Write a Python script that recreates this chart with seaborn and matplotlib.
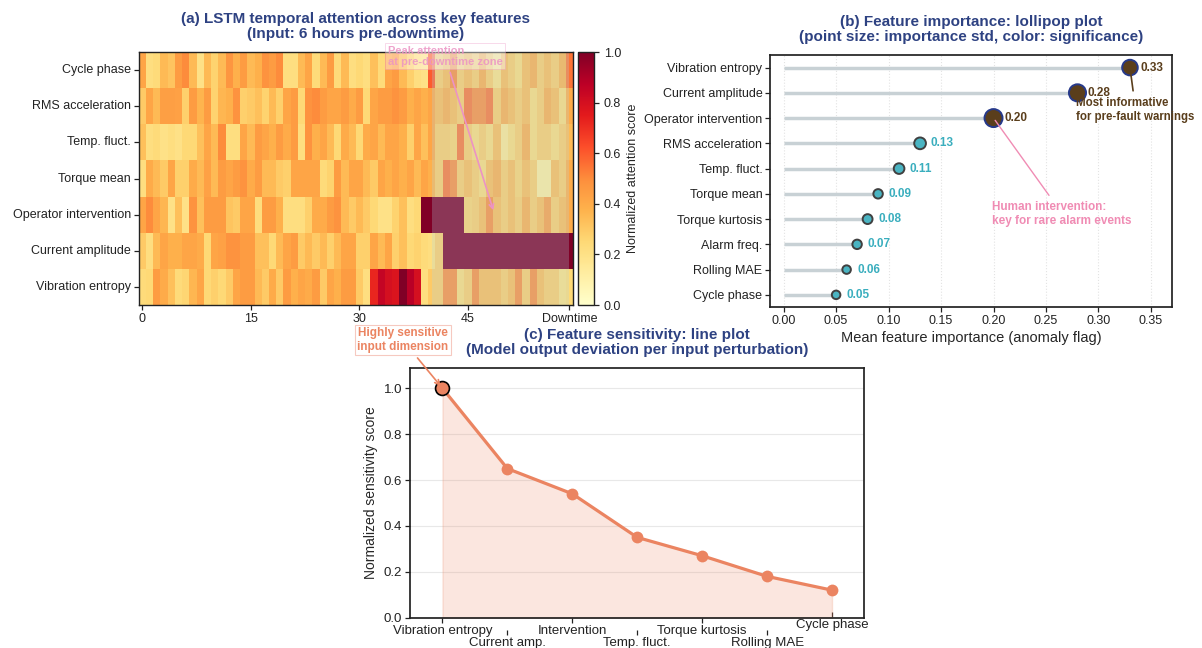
import numpy as np
import pandas as pd
import matplotlib
matplotlib.use("Agg")
import matplotlib.pyplot as plt
import seaborn as sns
from matplotlib.transforms import ScaledTranslation

# ---- (a) LSTM attention heatmap: 7 features x 60 time steps ----
heat_features = ["Cycle phase", "RMS acceleration", "Temp. fluct.", "Torque mean",
                 "Operator intervention", "Current amplitude", "Vibration entropy"]
att_cycle_phase = [0.42, 0.22, 0.24, 0.35, 0.32, 0.45, 0.50, 0.35, 0.20, 0.35, 0.27, 0.35, 0.47, 0.38, 0.45,
                   0.35, 0.38, 0.48, 0.45, 0.50, 0.22, 0.22, 0.35, 0.42, 0.24, 0.35, 0.45, 0.24, 0.35, 0.22,
                   0.25, 0.22, 0.33, 0.24, 0.42, 0.45, 0.35, 0.28, 0.22, 0.20, 0.60, 0.30, 0.35, 0.50, 0.30,
                   0.35, 0.30, 0.40, 0.30, 0.22, 0.35, 0.30, 0.25, 0.35, 0.40, 0.30, 0.35, 0.30, 0.38, 0.55]
att_rms_accel = [0.30, 0.42, 0.35, 0.44, 0.44, 0.43, 0.28, 0.45, 0.37, 0.45, 0.27, 0.36, 0.38, 0.48, 0.28,
                 0.30, 0.33, 0.27, 0.35, 0.28, 0.42, 0.45, 0.25, 0.48, 0.50, 0.45, 0.42, 0.42, 0.45, 0.40,
                 0.45, 0.25, 0.42, 0.45, 0.45, 0.48, 0.45, 0.38, 0.42, 0.38, 0.42, 0.35, 0.40, 0.35, 0.30,
                 0.55, 0.50, 0.50, 0.55, 0.30, 0.40, 0.35, 0.30, 0.35, 0.25, 0.30, 0.40, 0.35, 0.25, 0.40]
att_temp_fluct = [0.33, 0.22, 0.24, 0.20, 0.22, 0.20, 0.25, 0.25, 0.33, 0.42, 0.35, 0.50, 0.22, 0.22, 0.42,
                  0.35, 0.45, 0.42, 0.38, 0.45, 0.40, 0.45, 0.22, 0.48, 0.38, 0.42, 0.35, 0.25, 0.40, 0.35,
                  0.25, 0.40, 0.42, 0.35, 0.42, 0.42, 0.38, 0.28, 0.42, 0.33, 0.42, 0.30, 0.30, 0.28, 0.55,
                  0.30, 0.25, 0.30, 0.25, 0.35, 0.18, 0.25, 0.30, 0.40, 0.25, 0.30, 0.30, 0.25, 0.30, 0.35]
att_torque_mean = [0.22, 0.40, 0.35, 0.30, 0.42, 0.28, 0.28, 0.40, 0.35, 0.43, 0.35, 0.45, 0.42, 0.45, 0.48,
                   0.40, 0.45, 0.35, 0.35, 0.30, 0.28, 0.42, 0.42, 0.42, 0.42, 0.24, 0.27, 0.45, 0.35, 0.42,
                   0.42, 0.35, 0.30, 0.42, 0.38, 0.42, 0.38, 0.42, 0.35, 0.42, 0.38, 0.30, 0.55, 0.50, 0.30,
                   0.35, 0.30, 0.25, 0.35, 0.40, 0.30, 0.35, 0.28, 0.35, 0.30, 0.15, 0.15, 0.35, 0.30, 0.40]
att_operator = [0.42, 0.50, 0.42, 0.36, 0.20, 0.33, 0.20, 0.48, 0.33, 0.45, 0.45, 0.45, 0.32, 0.30, 0.42,
                0.42, 0.23, 0.45, 0.45, 0.38, 0.22, 0.22, 0.22, 0.28, 0.40, 0.40, 0.45, 0.48, 0.35, 0.30,
                0.35, 0.30, 0.25, 0.20, 0.20, 0.27, 0.33, 0.22, 0.25, 1.00, 1.00, 1.00, 1.00, 1.00, 1.00,
                0.28, 0.30, 0.35, 0.50, 0.35, 0.30, 0.35, 0.30, 0.40, 0.30, 0.35, 0.45, 0.30, 0.35, 0.40]
att_current_amp = [0.30, 0.22, 0.35, 0.42, 0.38, 0.38, 0.42, 0.42, 0.40, 0.25, 0.42, 0.43, 0.48, 0.48, 0.45,
                   0.45, 0.33, 0.33, 0.25, 0.35, 0.42, 0.45, 0.30, 0.35, 0.30, 0.35, 0.28, 0.35, 0.42, 0.42,
                   0.28, 0.28, 0.42, 0.35, 0.42, 0.28, 0.33, 0.25, 0.27, 0.24, 0.22, 0.30, 1.00, 1.00, 1.00,
                   1.00, 1.00, 1.00, 1.00, 1.00, 1.00, 1.00, 1.00, 1.00, 1.00, 1.00, 1.00, 1.00, 1.00, 1.00]
att_vib_entropy = [0.24, 0.25, 0.45, 0.40, 0.33, 0.24, 0.26, 0.36, 0.42, 0.25, 0.28, 0.25, 0.30, 0.42, 0.45,
                   0.45, 0.35, 0.30, 0.40, 0.30, 0.45, 0.38, 0.42, 0.40, 0.45, 0.30, 0.42, 0.38, 0.45, 0.45,
                   0.30, 0.22, 0.72, 0.85, 0.80, 0.78, 1.00, 0.88, 0.80, 0.22, 0.30, 0.30, 0.50, 0.50, 0.25,
                   0.30, 0.50, 0.35, 0.35, 0.35, 0.30, 0.35, 0.50, 0.30, 0.50, 0.35, 0.30, 0.30, 0.22, 0.25]
time_ticks = [0, 15, 30, 45, 59]
time_tick_labels = ["0", "15", "30", "45", "Downtime"]

# ---- (b) feature importance lollipop ----
imp_features = ["Vibration entropy", "Current amplitude", "Operator intervention", "RMS acceleration",
                "Temp. fluct.", "Torque mean", "Torque kurtosis", "Alarm freq.", "Rolling MAE", "Cycle phase"]
imp_mean = [0.33, 0.28, 0.20, 0.13, 0.11, 0.09, 0.08, 0.07, 0.06, 0.05]
imp_std = [0.030, 0.036, 0.040, 0.017, 0.014, 0.011, 0.012, 0.011, 0.009, 0.009]
imp_significant = [True, True, True, False, False, False, False, False, False, False]

# ---- (c) sensitivity line ----
sens_features = ["Vibration entropy", "Current amp.", "Intervention", "Temp. fluct.",
                 "Torque kurtosis", "Rolling MAE", "Cycle phase"]
sens_score = [1.0, 0.65, 0.54, 0.35, 0.27, 0.18, 0.12]

sns.set_theme(style="ticks")
plt.rcParams["font.family"] = ["Liberation Sans", "DejaVu Sans"]
plt.rcParams["axes.edgecolor"] = "#222222"
plt.rcParams["xtick.color"] = "#222222"
plt.rcParams["ytick.color"] = "#222222"

title_col = "#2e4282"
pink = "#ec93c4"
brown = "#5a3e1c"
navy = "#26398a"
teal = "#4ab4c2"
teal_txt = "#3aaebe"
coral = "#eb8461"

fig = plt.figure(figsize=(12.02, 6.48), dpi=100)

# (a)
att = pd.DataFrame([att_cycle_phase, att_rms_accel, att_temp_fluct, att_torque_mean,
                    att_operator, att_current_amp, att_vib_entropy], index=heat_features)
ax1 = fig.add_axes([0.1154, 0.5293, 0.3613, 0.3904])
cax = fig.add_axes([0.4809, 0.5293, 0.0133, 0.3904])
sns.heatmap(att, ax=ax1, cmap="YlOrRd", vmin=0, vmax=1, cbar_ax=cax,
            cbar_kws={"label": "Normalized attention score"})
ax1.set_xticks(np.array(time_ticks) + 0.5)
ax1.set_xticklabels(time_tick_labels, rotation=0)
ax1.set_yticks(np.arange(len(heat_features)) + 0.5)
ax1.set_yticklabels(heat_features, rotation=0)
ax1.tick_params(axis="both", length=3.5, width=0.9, labelsize=9, pad=2)
for s in ax1.spines.values():
    s.set_visible(True)
    s.set_color("#222222")
    s.set_linewidth(1.0)
ax1.axvspan(40.5, 59.4, color="#add8e6", alpha=0.25, lw=0, zorder=2)
ax1.set_title("(a) LSTM temporal attention across key features\n(Input: 6 hours pre-downtime)",
              fontsize=11, fontweight="bold", color=title_col, pad=10, linespacing=1.1)
ax1.annotate("Peak attention\nat pre-downtime zone", xy=(49.1, 4.45), xytext=(34.4, 0.12),
             ha="left", va="center", fontsize=8, fontweight="bold", color=pink, alpha=0.85,
             bbox=dict(boxstyle="square,pad=0.2", fc="white", ec=pink, alpha=0.4, lw=0.6),
             arrowprops=dict(arrowstyle="->", color=pink, lw=1.2),
             annotation_clip=False, zorder=6)
cb = ax1.collections[0].colorbar
cb.outline.set_linewidth(1.0)
cb.outline.set_edgecolor("#222222")
cb.set_ticks(np.arange(0, 1.01, 0.2))
cb.ax.tick_params(labelsize=9, length=3.5, width=0.9)
cb.set_label("Normalized attention score", fontsize=9)

# (b)
ax2 = fig.add_axes([0.6406, 0.5255, 0.3344, 0.3897])
ypos = np.arange(len(imp_features))
ax2.hlines(ypos, 0, imp_mean, color="#c8d1d5", lw=2.5, zorder=1)
face = [brown if sig else teal for sig in imp_significant]
edge = [navy if sig else "#404040" for sig in imp_significant]
ax2.scatter(imp_mean, ypos, s=np.array(imp_std) * 4200, c=face, edgecolors=edge,
            linewidths=1.4, zorder=3)
for y, v, sig in zip(ypos, imp_mean, imp_significant):
    ax2.text(v + 0.01, y, f"{v:.2f}", ha="left", va="center", fontsize=8.5,
             fontweight="bold", color=brown if sig else teal_txt, zorder=4)
ax2.set_yticks(ypos)
ax2.set_yticklabels(imp_features)
ax2.set_ylim(len(imp_features) - 0.5, -0.5)
ax2.set_xlim(-0.013, 0.37)
ax2.set_xticks(np.arange(0, 0.351, 0.05))
ax2.grid(axis="x", ls=":", color="#e3e3e3", lw=0.8)
ax2.set_axisbelow(True)
ax2.tick_params(axis="both", length=3.5, width=0.9, labelsize=9, pad=2)
ax2.set_xlabel("Mean feature importance (anomaly flag)", fontsize=10.5, labelpad=3)
ax2.set_title("(b) Feature importance: lollipop plot\n(point size: importance std, color: significance)",
              fontsize=11, fontweight="bold", color=title_col, pad=10, linespacing=1.1)
ax2.annotate("Most informative\nfor pre-fault warnings", xy=(imp_mean[0], 0), xytext=(0.279, 1.67),
             ha="left", va="center", fontsize=8.3, fontweight="bold", color=brown,
             arrowprops=dict(arrowstyle="-", color=brown, lw=1.2), annotation_clip=False)
ax2.annotate("Human intervention:\nkey for rare alarm events", xy=(imp_mean[2], 2), xytext=(0.199, 5.79),
             ha="left", va="center", fontsize=8.5, fontweight="bold", color="#f08cb4",
             arrowprops=dict(arrowstyle="-", color="#f08cb4", lw=1.0))

# (c)
ax3 = fig.add_axes([0.3411, 0.0468, 0.3781, 0.3858])
xs = np.arange(len(sens_features))
ax3.fill_between(xs, sens_score, color=coral, alpha=0.2, lw=1)
sns.lineplot(x=xs, y=sens_score, ax=ax3, color=coral, lw=2.3, marker="o", markersize=8.5,
             markeredgecolor=coral, markeredgewidth=0)
ax3.scatter(xs[:1], sens_score[:1], s=100, color=coral, edgecolor="black", linewidths=1.2, zorder=5)
ax3.set_xlim(-0.5, len(sens_features) - 0.5)
ax3.set_ylim(0, 1.09)
ax3.set_xticks(xs)
ax3.set_xticklabels(sens_features)
ax3.set_yticks(np.arange(0, 1.01, 0.2))
ax3.grid(axis="y", color="#e8e8e8", lw=0.8)
ax3.set_axisbelow(True)
ax3.tick_params(axis="both", length=3.5, width=0.9, labelsize=9.5, pad=2)
ax3.set_ylabel("Normalized sensitivity score", fontsize=10)
ax3.set_title("(c) Feature sensitivity: line plot\n(Model output deviation per input perturbation)",
              fontsize=11, fontweight="bold", color=title_col, pad=10, linespacing=1.1)
ax3.annotate("Highly sensitive\ninput dimension", xy=(0, sens_score[0]), xytext=(-0.61, 1.21),
             ha="center", va="center", fontsize=8.5, fontweight="bold", color=coral,
             bbox=dict(boxstyle="square,pad=0.2", fc="white", ec="#f6c9c0", lw=0.8),
             arrowprops=dict(arrowstyle="->", color=coral, lw=1.2),
             annotation_clip=False, zorder=6)
# staggered tick labels (ticks move with them)
tick_shift_px = [0, -12, 0, -12, 0, -12, 6]
for tick, dy in zip(ax3.xaxis.get_major_ticks(), tick_shift_px):
    tr = ScaledTranslation(0, dy / 100, fig.dpi_scale_trans)
    tick.tick1line.set_transform(tick.tick1line.get_transform() + tr)
    tick.label1.set_transform(tick.label1.get_transform() + tr)

fig.savefig("out.png", dpi=100)
